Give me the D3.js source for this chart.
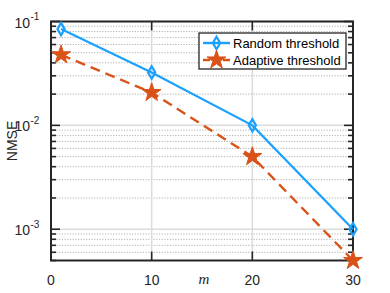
<!DOCTYPE html>
<html>
<head>
<meta charset="utf-8">
<script src="https://cdn.jsdelivr.net/npm/d3@7"></script>
<style>
  body { margin: 0; background: #fff; }
  svg { display: block; font-family: "Liberation Sans", Arial, sans-serif; }
</style>
</head>
<body>
<div id="chart"></div>
<script>
var mValues = [1, 10, 20, 30];
var randomThreshold = [0.0845, 0.0323, 0.0100, 0.00100];
var adaptiveThreshold = [0.0478, 0.0207, 0.0050, 0.00050];
var seriesNames = ["Random threshold", "Adaptive threshold"];
var xTicks = [0, 10, 20, 30];
var yDecades = [-1, -2, -3];

var blue = "#1aa1ff", orange = "#d95319", axisColor = "#262626";

var width = 390, height = 293;
var margin = {top: 21.5, right: 37, bottom: 32.5, left: 51};
var w = width - margin.left - margin.right,
    h = height - margin.top - margin.bottom;

var svg = d3.select("#chart").append("svg")
    .attr("width", width)
    .attr("height", height);

var x = d3.scaleLinear().domain([0, 30]).range([0, w]);
var y = d3.scaleLog().domain([5e-4, 0.1]).range([h, 0]);

var main = svg.append("g")
    .attr("transform", "translate(" + margin.left + "," + margin.top + ")");

// minor ticks values
var minorVals = [];
[1e-4, 1e-3, 1e-2].forEach(function (base) {
    for (var k = 2; k <= 9; k++) {
        var v = base * k;
        if (v >= 5e-4 && v < 0.1) minorVals.push(v);
    }
});
var majorVals = yDecades.map(function (e) { return Math.pow(10, e); });

// grid
var grid = main.append("g");
grid.selectAll(".minor").data(minorVals).enter().append("line")
    .attr("x1", 0).attr("x2", w)
    .attr("y1", function (d) { return y(d); })
    .attr("y2", function (d) { return y(d); })
    .style("stroke", "#b0b0b0").style("stroke-width", 1)
    .style("stroke-dasharray", "1.2,1.5");
grid.selectAll(".majy").data(majorVals).enter().append("line")
    .attr("x1", 0).attr("x2", w)
    .attr("y1", function (d) { return y(d); })
    .attr("y2", function (d) { return y(d); })
    .style("stroke", "#dcdcdc").style("stroke-width", 1.5);
grid.selectAll(".majx").data(xTicks).enter().append("line")
    .attr("x1", function (d) { return x(d); })
    .attr("x2", function (d) { return x(d); })
    .attr("y1", 0).attr("y2", h)
    .style("stroke", "#dcdcdc").style("stroke-width", 1.5);

// axes box ticks
var ax = main.append("g").style("stroke", axisColor);
function tickLines(vals, len, side) {
    vals.forEach(function (v) {
        if (side === "left") ax.append("line").attr("x1", 0).attr("x2", len).attr("y1", y(v)).attr("y2", y(v));
        if (side === "right") ax.append("line").attr("x1", w).attr("x2", w - len).attr("y1", y(v)).attr("y2", y(v));
        if (side === "bottom") ax.append("line").attr("x1", x(v)).attr("x2", x(v)).attr("y1", h).attr("y2", h - len);
        if (side === "top") ax.append("line").attr("x1", x(v)).attr("x2", x(v)).attr("y1", 0).attr("y2", len);
    });
}
tickLines(majorVals, 9, "left");
tickLines(majorVals, 9, "right");
tickLines(minorVals, 5, "left");
tickLines(minorVals, 5, "right");
tickLines(xTicks, 9, "bottom");
tickLines(xTicks, 9, "top");
ax.selectAll("line").style("stroke-width", 1.6);

main.append("rect")
    .attr("x", 0).attr("y", 0).attr("width", w).attr("height", h)
    .style("fill", "none").style("stroke", axisColor).style("stroke-width", 2);

// tick labels
main.selectAll(".xl").data(xTicks).enter().append("text")
    .attr("x", function (d) { return x(d); })
    .attr("y", h + 24)
    .attr("text-anchor", "middle")
    .style("font-size", "14px").style("fill", axisColor)
    .text(function (d) { return d; });

yDecades.forEach(function (e) {
    main.append("text")
        .attr("x", -21)
        .attr("y", y(Math.pow(10, e)) + 6)
        .attr("text-anchor", "end")
        .style("font-size", "14px").style("fill", axisColor)
        .text("10");
    main.append("text")
        .attr("x", -20.5)
        .attr("y", y(Math.pow(10, e)) - 1.5)
        .attr("text-anchor", "start")
        .style("font-size", "10px").style("fill", axisColor)
        .text("-" + (-e));
});

// axis labels
svg.append("text")
    .attr("transform", "translate(17," + (margin.top + h / 2) + ") rotate(-90)")
    .attr("text-anchor", "middle")
    .style("font-size", "14px").style("fill", axisColor)
    .text("NMSE");

svg.append("text")
    .attr("x", margin.left + x(15) + 2)
    .attr("y", 284)
    .attr("text-anchor", "middle")
    .style("font-family", "'Liberation Serif', 'Times New Roman', serif")
    .style("font-style", "italic")
    .style("font-size", "15px").style("fill", axisColor)
    .text("m");

// lines
var line = d3.line()
    .x(function (d, i) { return x(mValues[i]); })
    .y(function (d) { return y(d); });

main.append("path").datum(randomThreshold)
    .attr("d", line)
    .style("fill", "none").style("stroke", blue).style("stroke-width", 2.2);
main.append("path").datum(adaptiveThreshold)
    .attr("d", line)
    .style("fill", "none").style("stroke", orange).style("stroke-width", 2.4)
    .style("stroke-dasharray", "10,6");

var diamond = d3.symbol().type(d3.symbolDiamond).size(45);
var star = d3.symbol().type(d3.symbolStar).size(110);

main.selectAll(".dm").data(randomThreshold).enter().append("path")
    .attr("d", diamond)
    .attr("transform", function (d, i) { return "translate(" + x(mValues[i]) + "," + y(d) + ")"; })
    .style("fill", "none").style("stroke", blue).style("stroke-width", 2.2);
main.selectAll(".st").data(adaptiveThreshold).enter().append("path")
    .attr("d", star)
    .attr("transform", function (d, i) { return "translate(" + x(mValues[i]) + "," + y(d) + ")"; })
    .style("fill", orange).style("stroke", orange).style("stroke-width", 1);

// legend
var lg = svg.append("g").attr("transform", "translate(199,33)");
lg.append("rect")
    .attr("width", 147).attr("height", 36)
    .style("fill", "#fff").style("stroke", axisColor).style("stroke-width", 1.3);
var colors = [blue, orange];
seriesNames.forEach(function (name, i) {
    var yy = 10 + i * 17;
    lg.append("line")
        .attr("x1", 4).attr("x2", 31).attr("y1", yy).attr("y2", yy)
        .style("stroke", colors[i]).style("stroke-width", 2.4)
        .style("stroke-dasharray", i === 1 ? "7,3" : null);
    lg.append("path")
        .attr("d", i === 0 ? diamond : star)
        .attr("transform", "translate(17.5," + yy + ")")
        .style("fill", i === 0 ? "none" : orange)
        .style("stroke", colors[i]).style("stroke-width", i === 0 ? 2.2 : 1);
    lg.append("text")
        .attr("x", 34).attr("y", yy + 5)
        .style("font-size", "13px").style("fill", "#000")
        .text(name);
});
</script>
</body>
</html>
